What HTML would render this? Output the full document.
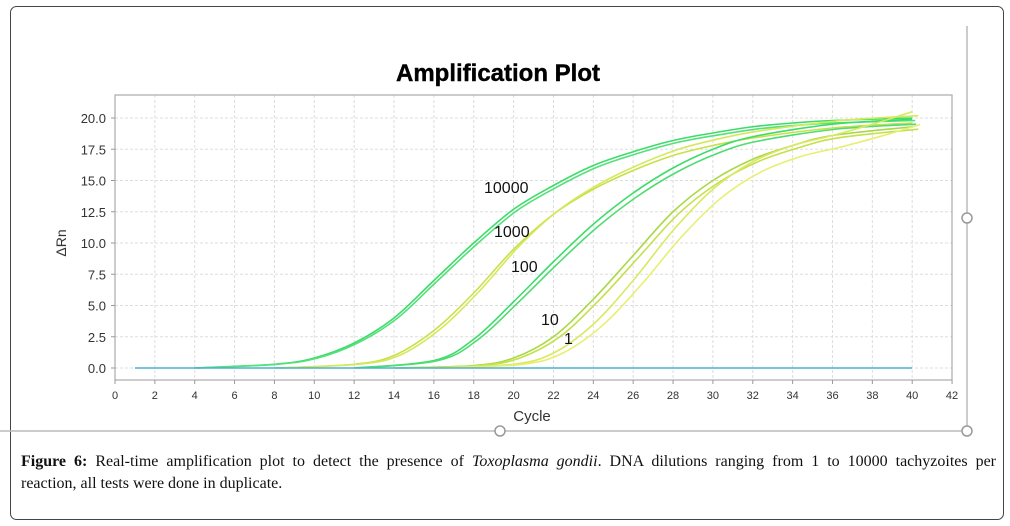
<!DOCTYPE html>
<html><head><meta charset="utf-8"><style>
body{margin:0;background:#fff;width:1010px;height:526px;overflow:hidden;font-family:"Liberation Sans",sans-serif}
.cap{position:absolute;left:21px;width:975px;font-family:"Liberation Serif",serif;font-size:16px;line-height:22px;color:#111;white-space:nowrap}
.l1{top:451px;text-align:justify;text-align-last:justify;white-space:normal}
.l2{top:473px}
</style></head><body>
<svg width="1010" height="526" style="position:absolute;left:0;top:0" font-family="Liberation Sans, sans-serif">
<rect x="10.5" y="6.5" width="993" height="513" rx="6" fill="none" stroke="#444" stroke-width="1"/>
<path d="M967 26 V431 H0" fill="none" stroke="#bbb" stroke-width="1.5"/>
<circle cx="967" cy="218" r="5" fill="#fff" stroke="#999" stroke-width="1.5"/>
<circle cx="500" cy="431" r="5" fill="#fff" stroke="#999" stroke-width="1.5"/>
<circle cx="967" cy="431" r="5" fill="#fff" stroke="#999" stroke-width="1.5"/>
<text x="498" y="81" font-size="24" font-weight="bold" text-anchor="middle" stroke="#000" stroke-width="0.4">Amplification Plot</text>
<g id="grid" stroke="#ddd" stroke-dasharray="3,2" stroke-width="1"></g>
<rect x="115" y="95" width="837" height="285" fill="none" stroke="#aaa" stroke-width="1.2"/>
<g id="ticks" font-size="13" fill="#333"></g>
<text x="532" y="421" font-size="15" text-anchor="middle" fill="#333">Cycle</text>
<text transform="translate(66,243) rotate(-90)" font-size="14" text-anchor="middle" fill="#333">ΔRn</text>
<g id="curves" fill="none" stroke-width="1.6"></g>
<line x1="135" y1="368" x2="912" y2="368" stroke="#4ab0d0" stroke-width="1.6"/>
<g font-size="16" fill="#111">
<text x="484" y="193">10000</text><text x="494" y="237">1000</text><text x="511" y="272">100</text><text x="541" y="325">10</text><text x="564" y="344">1</text>
</g>
</svg>
<div class="cap l1"><b>Figure 6:</b> Real-time amplification plot to detect the presence of <i>Toxoplasma gondii</i>. DNA dilutions ranging from 1 to 10000 tachyzoites per</div>
<div class="cap l2">reaction, all tests were done in duplicate.</div>
<script>
const X=c=>115+c*19.93, Y=v=>368-12.5*v, NS="http://www.w3.org/2000/svg";
const g=document.getElementById('grid'),t=document.getElementById('ticks');
function el(p,n,a,txt){const e=document.createElementNS(NS,n);for(const k in a)e.setAttribute(k,a[k]);if(txt!=null)e.textContent=txt;p.appendChild(e);return e;}
for(let c=2;c<42;c+=2)el(g,'line',{x1:X(c),x2:X(c),y1:95,y2:380});
for(let v=0;v<=20;v+=2.5)el(g,'line',{x1:115,x2:952,y1:Y(v),y2:Y(v)});
for(let c=0;c<=42;c+=2){el(t,'text',{x:X(c),y:399,'font-size':11,'text-anchor':'middle'},c);el(t,'line',{x1:X(c),x2:X(c),y1:380,y2:384,stroke:'#999'});}
for(let v=0;v<=20;v+=2.5){el(t,'text',{x:106,y:Y(v)+5,'text-anchor':'end'},v.toFixed(1));el(t,'line',{x1:111,x2:115,y1:Y(v),y2:Y(v),stroke:'#999'});}
const cv=document.getElementById('curves');
function curve(pts,col,dx,dy,sc){
 pts=pts.map(p=>[X(p[0]+dx),Y(p[1]*sc+dy)]);
 let d='M'+pts[0][0]+' '+pts[0][1];
 for(let i=0;i<pts.length-1;i++){const p0=pts[Math.max(0,i-1)],p1=pts[i],p2=pts[i+1],p3=pts[Math.min(pts.length-1,i+2)];
 d+=` C${p1[0]+(p2[0]-p0[0])/6} ${p1[1]+(p2[1]-p0[1])/6} ${p2[0]-(p3[0]-p1[0])/6} ${p2[1]-(p3[1]-p1[1])/6} ${p2[0]} ${p2[1]}`;}
 el(cv,'path',{d:d,stroke:col});}
const c1e4=[[4,0],[8,0.3],[10,0.8],[12,2],[14,4],[16,7],[18,10],[20,12.7],[22,14.6],[24,16.2],[26,17.3],[28,18.2],[30,18.8],[32,19.3],[34,19.6],[36,19.8],[40,20]];
const c1e3=[[8,0],[12,0.3],[14,1],[16,3],[18,6],[20,9.5],[22,12.3],[24,14.3],[26,15.8],[28,17],[30,17.8],[32,18.4],[36,19.2],[40,19.6]];
const c100=[[12,0],[16,0.6],[18,2.3],[20,5.3],[22,8.5],[24,11.5],[26,14],[28,16],[30,17.5],[32,18.5],[36,19.5],[40,19.9]];
const c10=[[14,0],[18,0.2],[20,0.8],[22,2.5],[24,5.5],[26,9],[28,12.5],[30,15],[32,16.7],[34,17.8],[36,18.6],[40,19.3]];
const c1=[[16,0],[20,0.3],[22,1.2],[24,3.5],[26,7],[28,11],[30,14.3],[32,16.5],[34,17.8],[36,18.6],[38,19.5],[40,20.5]];
curve(c1e4,'#3ddc6a',0,0,1);curve(c1e4,'#55e07a',0.15,0,0.99);
curve(c1e3,'#c8e04a',0,0,1);curve(c1e3,'#d6e85a',0.3,0,1.03);
curve(c100,'#3ddc6a',0,0,1);curve(c100,'#4fdc70',0.2,0,0.98);
curve(c10,'#a8d845',0,0,1);curve(c10,'#c5e04a',0.3,0,0.99);
curve(c1,'#dbe860',0,0,1);curve(c1,'#e8ef70',0.4,0,0.95);
</script>
</body></html>
